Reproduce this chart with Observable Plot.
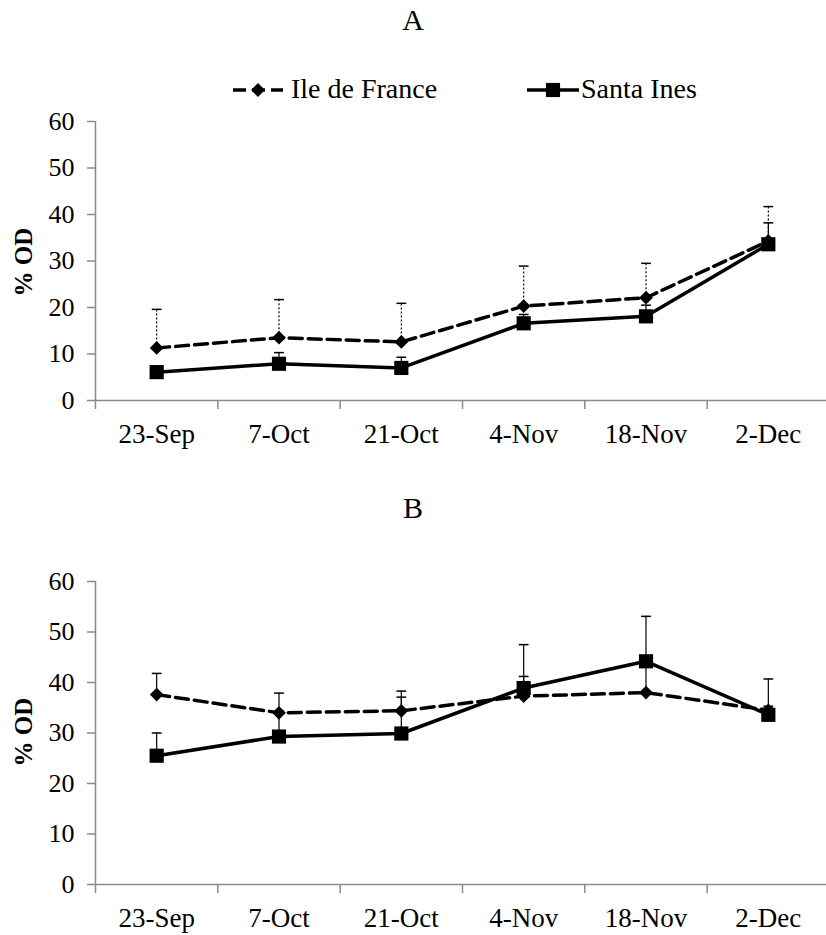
<!DOCTYPE html>
<html>
<head>
<meta charset="utf-8">
<script src="https://cdn.jsdelivr.net/npm/d3@7"></script>
<script src="https://cdn.jsdelivr.net/npm/@observablehq/plot@0.6"></script>
<style>
  html, body { margin: 0; padding: 0; background: #fff; }
  #wrap { position: relative; width: 826px; height: 935px; overflow: hidden; font-family: "Liberation Serif", serif; color: #000; }
  .title { position: absolute; left: 0; width: 826px; text-align: center; font-size: 30px; line-height: 30px; z-index: 2; }
  .ylab { position: absolute; font-size: 25px; line-height: 25px; font-weight: bold; white-space: nowrap; transform: translate(-50%, -50%) rotate(-90deg); z-index: 3; }
  .panel { position: absolute; left: 0; z-index: 1; }
  .panel svg g[aria-label$="axis tick"] { stroke: #8a8a8a; stroke-width: 1.5; }
  svg text { font-family: "Liberation Serif", serif !important; }
  #legend { position: absolute; left: 0; top: 0; z-index: 2; }
</style>
</head>
<body>
<div id="wrap">
  <div class="panel" id="pa" style="top:100px"></div>
  <div class="panel" id="pb" style="top:560px"></div>
  <div class="title" style="top:5px">A</div>
  <div class="title" style="top:493px">B</div>
  <div class="ylab" style="left:23px; top:262px">% OD</div>
  <div class="ylab" style="left:23px; top:732px">% OD</div>
  <svg id="legend" width="826" height="110"></svg>
</div>
<script>
// ---- data ----
const dates = ["23-Sep", "7-Oct", "21-Oct", "4-Nov", "18-Nov", "2-Dec"];
const series = ["Ile de France", "Santa Ines"];
const yTicks = [0, 10, 20, 30, 40, 50, 60];

// Panel A
const aIle      = [11.3, 13.5, 12.6, 20.3, 22.1, 34.3];
const aIleSd    = [8.3, 8.2, 8.3, 8.6, 7.4, 7.4];
const aSanta    = [6.1, 7.9, 7.0, 16.6, 18.1, 33.6];
const aSantaSd  = [1.0, 2.4, 2.3, 1.9, 2.4, 4.6];

// Panel B
const bIle      = [37.6, 34.0, 34.4, 37.3, 38.0, 34.5];
const bIleSd    = [4.2, 3.9, 3.9, 3.9, 5.5, 0.8];
const bSanta    = [25.5, 29.3, 29.9, 38.9, 44.2, 33.6];
const bSantaSd  = [4.5, 5.0, 7.2, 8.6, 8.9, 7.1];

function rows(means, sds) {
  return means.map((m, i) => ({i, mean: m, top: m + sds[i]}));
}

const AX = "#8a8a8a";
const FONT = "Liberation Serif, serif";

function panel(ile, santa, height, marginBottom, ileErrDash) {
  const bounds = d3.range(-0.5, dates.length - 0.5, 1);
  const errMarks = (data, dash) => [
    Plot.ruleX(data, {x: "i", y1: "mean", y2: "top", stroke: "#000", strokeWidth: 1.2, strokeDasharray: dash}),
    Plot.link(data, {x1: d => d.i - 0.04, x2: d => d.i + 0.04, y1: "top", y2: "top", stroke: "#000", strokeWidth: 1.5})
  ];
  return Plot.plot({
    width: 826, height,
    marginLeft: 95, marginRight: 0, marginTop: 21, marginBottom,
    x: {domain: [-0.5, dates.length - 0.5], range: [95, 829]},
    y: {domain: [0, 60]},
    style: {fontFamily: FONT, background: "white", color: "#000", overflow: "visible"},
    marks: [
      Plot.ruleY([0], {stroke: AX, strokeWidth: 1.5}),
      Plot.ruleX([-0.5], {y1: 0, y2: 60, stroke: AX, strokeWidth: 1.5}),
      Plot.axisY({ticks: yTicks, tickSize: 8, tickPadding: 13, fontSize: 26, label: null}),
      Plot.axisX({ticks: bounds, tickSize: 9, tickFormat: () => "", label: null}),
      Plot.axisX({ticks: d3.range(dates.length), tickSize: 0, tickPadding: 23, tickFormat: i => dates[i], fontSize: 27, label: null}),
      ...errMarks(santa, null),
      ...errMarks(ile, ileErrDash),
      Plot.line(ile, {x: "i", y: "mean", stroke: "#000", strokeWidth: 3.5, strokeDasharray: "13,6"}),
      Plot.line(santa, {x: "i", y: "mean", stroke: "#000", strokeWidth: 3.5}),
      Plot.dot(ile, {x: "i", y: "mean", symbol: "diamond2", r: 6.2, fill: "#000", stroke: "none"}),
      Plot.dot(santa, {x: "i", y: "mean", symbol: "square", r: 8, fill: "#000", stroke: "none"})
    ]
  });
}

document.getElementById("pa").append(panel(rows(aIle, aIleSd), rows(aSanta, aSantaSd), 360, 60, "2,2"));
document.getElementById("pb").append(panel(rows(bIle, bIleSd), rows(bSanta, bSantaSd), 375, 51, null));

// ---- legend ----
const leg = d3.select("#legend");
const legItems = [
  {name: series[0], x0: 233, x1: 283, dash: "13,6", sym: d3.symbolDiamond2, size: Math.PI * 6.2 * 6.2, tx: 291},
  {name: series[1], x0: 527, x1: 579, dash: null, sym: d3.symbolSquare, size: Math.PI * 8 * 8, tx: 581}
];
const g = leg.selectAll("g").data(legItems).join("g");
g.append("line")
  .attr("x1", d => d.x0).attr("x2", d => d.x1).attr("y1", 90).attr("y2", 90)
  .attr("stroke", "#000").attr("stroke-width", 3.5)
  .attr("stroke-dasharray", d => d.dash);
g.append("path")
  .attr("transform", d => `translate(${(d.x0 + d.x1) / 2},90)`)
  .attr("d", d => d3.symbol(d.sym, d.size)())
  .attr("fill", "#000");
g.append("text")
  .attr("x", d => d.tx).attr("y", 98)
  .attr("font-size", 28)
  .attr("fill", "#000")
  .text(d => d.name);
</script>
</body>
</html>
